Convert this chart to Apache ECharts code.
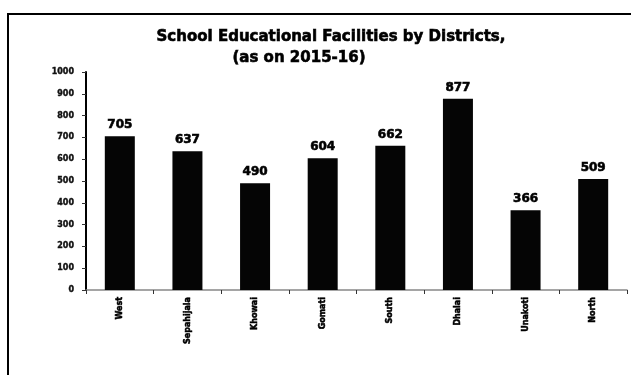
<!DOCTYPE html>
<html>
<head>
<meta charset="utf-8">
<script src="https://cdn.jsdelivr.net/npm/echarts@6/dist/echarts.min.js"></script>
<style>
  html, body { margin: 0; padding: 0; background: #fff; }
  #chart { width: 631px; height: 375px; }
</style>
</head>
<body>
<div id="chart"></div>
<script>
// District-wise school educational facilities, 2015-16
const districts = ['West', 'Sepahijala', 'Khowai', 'Gomati', 'South', 'Dhalai', 'Unakoti', 'North'];
const facilities = [705, 637, 490, 604, 662, 877, 366, 509];
const titleLines = ['School Educational Facilities by Districts,', '(as on 2015-16)'];

const chart = echarts.init(document.getElementById('chart'), null, { renderer: 'canvas' });
const font = '"DejaVu Sans", sans-serif';

chart.setOption({
  animation: false,
  backgroundColor: '#fff',
  graphic: [
    {
      type: 'rect',
      shape: { x: 8, y: 14, width: 700, height: 500 },
      style: { fill: 'none', stroke: '#000', lineWidth: 2 },
      silent: true
    },
    {
      type: 'text',
      x: 331, y: 37,
      style: {
        text: titleLines[0], fontFamily: font, fontWeight: 'bold', fontSize: 15,
        fill: '#000', stroke: '#000', lineWidth: 0.6,
        align: 'center', verticalAlign: 'middle'
      }
    },
    {
      type: 'text',
      x: 299, y: 58,
      style: {
        text: titleLines[1], fontFamily: font, fontWeight: 'bold', fontSize: 15,
        fill: '#000', stroke: '#000', lineWidth: 0.6,
        align: 'center', verticalAlign: 'middle'
      }
    }
  ],
  grid: { left: 86, right: 4, top: 72, bottom: 85, containLabel: false },
  xAxis: {
    type: 'category',
    data: districts,
    axisLine: { lineStyle: { color: '#888', width: 1.5 } },
    axisTick: { show: true, length: 4, lineStyle: { color: '#333' } },
    axisLabel: {
      rotate: 90, margin: 7, fontFamily: font, fontWeight: 'bold',
      fontSize: 8, color: '#000', interval: 0,
      textBorderColor: '#000', textBorderWidth: 0.5
    }
  },
  yAxis: {
    type: 'value',
    min: 0, max: 1000, interval: 100,
    splitLine: { show: false },
    axisLine: { show: true, lineStyle: { color: '#000', width: 2 } },
    axisTick: { show: true, length: 4, lineStyle: { color: '#333' } },
    axisLabel: {
      margin: 12, fontFamily: font, fontWeight: 'bold', fontSize: 8, color: '#111',
      formatter: v => String(v),
      textBorderColor: '#111', textBorderWidth: 0.4
    }
  },
  series: [{
    type: 'bar',
    data: facilities,
    barWidth: 30,
    itemStyle: { color: '#050505' },
    label: {
      show: true, position: 'top', distance: 5,
      fontFamily: font, fontWeight: 'bold', fontSize: 12, color: '#000',
      textBorderColor: '#000', textBorderWidth: 0.6
    }
  }]
});
</script>
</body>
</html>
